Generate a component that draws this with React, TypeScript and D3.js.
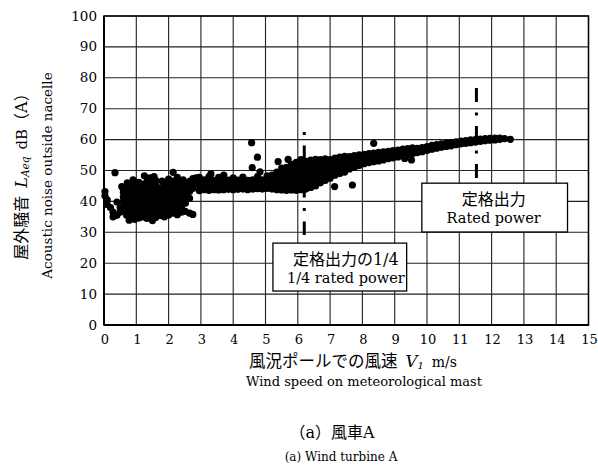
import React from 'react';
import * as d3 from 'd3';

// tick values
const speedTicks = [0, 1, 2, 3, 4, 5, 6, 7, 8, 9, 10, 11, 12, 13, 14, 15];
const noiseTicks = [0, 10, 20, 30, 40, 50, 60, 70, 80, 90, 100];

// scatter, as [wind speed, list of noise levels]
const calmEdge: [number, number[]][] = [
  [0.03, [43.2, 41.8]],
  [0.1, [40.5, 39]],
  [0.2, [38]],
  [0.28, [36.5, 35]],
  [0.4, [39.8, 35.5]],
  [0.5, [38, 36.5]],
];

const lowWindCloud: [number, number[]][] = [
  [0.6, [37, 38.5, 40, 41.5, 43, 44]],
  [0.7, [35.5, 37, 38.5, 40, 41.5, 43, 44.5]],
  [0.82, [34.8, 36.3, 37.8, 39.3, 40.8, 42.3, 43.8, 45.2]],
  [0.95, [34.2, 35.7, 37.2, 38.7, 40.2, 41.7, 43.2, 44.7, 46]],
  [1.08, [34.6, 36.1, 37.6, 39.1, 40.6, 42.1, 43.6, 45, 46.2]],
  [1.2, [35, 36.5, 38, 39.5, 41, 42.5, 44, 45.5]],
  [1.33, [34.5, 36, 37.5, 39, 40.5, 42, 43.5, 45, 46.4]],
  [1.46, [35.2, 36.7, 38.2, 39.7, 41.2, 42.7, 44.2, 45.6]],
  [1.6, [34.8, 36.3, 37.8, 39.3, 40.8, 42.3, 43.8, 45.2, 46.8]],
  [1.74, [35.4, 36.9, 38.4, 39.9, 41.4, 42.9, 44.4]],
  [1.87, [35, 36.5, 38, 39.5, 41, 42.5, 44, 45.4]],
  [2.0, [35.6, 37.1, 38.6, 40.1, 41.6, 43.1, 44.6, 46, 47.2]],
  [2.13, [36.2, 37.7, 39.2, 40.7, 42.2, 43.7, 45.2, 46.6]],
  [2.27, [35.7, 37.2, 38.7, 40.2, 41.7, 43.2, 44.7, 46.2, 47.8]],
  [2.4, [36.5, 38, 39.5, 41, 42.5, 44, 45.5]],
  [2.52, [36.8, 39.4, 40.9, 42.4, 43.9, 45.3]],
  [2.65, [36.2, 41, 43.2, 45, 46.5]],
  [2.75, [35.8, 44.2, 46, 47.4]],
  [2.85, [46.2, 47.6]],
];

const midWindBand: [number, number[]][] = [
  [2.95, [43.5, 45, 46.5, 47.8]],
  [3.1, [43.8, 45.2, 47]],
  [3.25, [43.6, 45, 46.6, 48]],
  [3.4, [43.8, 45.3, 46.8]],
  [3.55, [43.7, 45.2, 46.7, 47.8]],
  [3.7, [43.8, 45.3, 46.8, 48.2]],
  [3.85, [43.9, 45.4, 46.9]],
  [4.0, [43.8, 45.3, 46.8, 47.6]],
  [4.15, [43.9, 45.4, 46.9]],
  [4.3, [44, 45.5, 47, 47.9]],
  [4.45, [43.8, 45.3, 46.8]],
  [4.6, [44, 45.5, 47]],
  [4.75, [44.1, 45.6, 47.1, 48]],
  [4.9, [44, 45.5, 47]],
  [5.05, [44.2, 45.7, 47.2, 48.3]],
  [5.2, [44, 45.5, 47, 48.5]],
  [5.35, [43.8, 45.3, 46.8, 48.3, 49.5]],
  [5.5, [43.7, 45.2, 46.7, 48.2, 49.7, 50.8]],
  [5.65, [43.6, 45.1, 46.6, 48.1, 49.6, 51]],
];

const quarterPowerCloud: [number, number[]][] = [
  [5.8, [43.7, 45.2, 46.7, 48.2, 49.7, 51.2, 52]],
  [5.95, [43.6, 45.1, 46.6, 48.1, 49.6, 51.1, 52.6]],
  [6.1, [43.8, 45.3, 46.8, 48.3, 49.8, 51.3, 52.8, 53.5]],
  [6.25, [44, 45.5, 47, 48.5, 50, 51.5, 53]],
  [6.4, [44.5, 46, 47.5, 49, 50.5, 52, 53.4]],
  [6.55, [45, 46.5, 48, 49.5, 51, 52.5, 53.6]],
  [6.7, [46, 47.5, 49, 50.5, 52, 53.5]],
  [6.85, [46.8, 48.3, 49.8, 51.3, 52.8, 53.8]],
  [7.0, [47.5, 49, 50.5, 52, 53.5]],
  [7.15, [48.5, 50, 51.5, 53, 54]],
  [7.3, [49, 50.5, 52, 53.5, 54.3]],
  [7.45, [49.5, 51, 52.5, 54, 54.6]],
];

const highWindBand: [number, number[]][] = [
  [7.6, [50.5, 52, 53.5, 54.5]],
  [7.75, [51, 52.5, 54, 54.8]],
  [7.9, [51.6, 53, 54.5, 55.1]],
  [8.05, [52.2, 53.7, 55.2]],
  [8.2, [52.5, 54, 55.5]],
  [8.35, [52.8, 54.2, 55.6]],
  [8.5, [53.1, 54.5, 55.9]],
  [8.65, [53.4, 54.8, 56]],
  [8.8, [53.8, 55.1, 56.2]],
  [8.95, [54.1, 55.4, 56.4]],
  [9.1, [54.4, 55.6, 56.6]],
  [9.25, [54.8, 56, 56.9]],
  [9.4, [55.1, 56.2, 57.1]],
  [9.55, [55.4, 56.5, 57.3]],
  [9.7, [55.8, 57.2]],
  [9.85, [56.1, 57.4]],
  [10.0, [56.5, 57.7]],
  [10.15, [56.9, 58.1]],
  [10.3, [57.2, 58.4]],
  [10.45, [57.5, 58.6]],
  [10.6, [57.8, 58.9]],
  [10.75, [58, 59]],
  [10.9, [58.3, 59.3]],
  [11.05, [58.6, 59.5]],
  [11.2, [58.8, 59.7]],
  [11.35, [59, 59.9]],
  [11.5, [59.2, 60]],
  [11.65, [59.4, 60.2]],
  [11.8, [59.6, 60.3]],
  [11.95, [59.8, 60.4]],
  [12.1, [59.9, 60.5]],
  [12.25, [60.1, 60.5]],
  [12.4, [60.3]],
  [12.58, [60.1]],
];

const outliers: [number, number][] = [
  [0.34, 49.3], [1.25, 48.3], [2.14, 49.4], [3.31, 48.9], [3.71, 48.5],
  [4.57, 59], [4.75, 54.3], [4.59, 50.9], [4.83, 49.6], [5.39, 52.9],
  [5.7, 53.6], [7.14, 44.8], [7.69, 45.3], [8.35, 58.8], [9.31, 53.9],
  [9.52, 53.4], [0.55, 44.8], [0.72, 46], [0.9, 47], [1.42, 47.6],
  [1.55, 48], [1.8, 46.6], [2.45, 47], [0.78, 33.9], [1.5, 33.8],
];

// dash-dot markers: wind speed and noise range they span
const markerSpeeds = [6.2, 11.53];
const markerFrom = [29.1, 47.2];
const markerTo = [62.5, 76.7];

// annotation boxes: [speed min, speed max, noise min, noise max]
const boxExtents: [number, number, number, number][] = [
  [5.23, 9.37, 11, 26.5],
  [9.84, 14.35, 30.1, 45.9],
];
const boxJa = ['定格出力の1/4', '定格出力'];
const boxEn = ['1/4 rated power', 'Rated power'];

const W = 598;
const H = 466;
const serif = '"DejaVu Serif", "Noto Sans CJK JP", serif';
const ja = '"DejaVu Serif", "Noto Sans CJK JP", sans-serif';

export default function App() {
  const x = d3.scaleLinear().domain([0, 15]).range([104, 588.5]);
  const y = d3.scaleLinear().domain([0, 100]).range([325, 16]);

  const points: [number, number][] = [
    ...[...calmEdge, ...lowWindCloud, ...midWindBand, ...quarterPowerCloud, ...highWindBand]
      .flatMap(([v, ls]) => ls.map((l) => [v, l] as [number, number])),
    ...outliers,
  ];

  const dashes = ['3 10.5 14 10.5', '14 10.5 3 10.5'];
  const boxTextDx = [6, -1];

  return (
    <svg width={W} height={H} style={{ position: 'absolute', left: 0, top: 0, background: '#fff' }}>
      <rect x={0} y={0} width={W} height={H} fill="#fff" />
      {/* grid */}
      {speedTicks.map((t) => (
        <line key={'gx' + t} x1={x(t)} x2={x(t)} y1={y(0)} y2={y(100)} stroke="#222" strokeWidth={1.1} />
      ))}
      {noiseTicks.map((t) => (
        <line key={'gy' + t} x1={x(0)} x2={x(15)} y1={y(t)} y2={y(t)} stroke="#222" strokeWidth={1.1} />
      ))}

      {/* scatter */}
      {points.map(([v, l], i) => (
        <circle key={i} cx={x(v)} cy={y(l)} r={3.6} fill="#000" />
      ))}

      {/* rated power markers */}
      {markerSpeeds.map((s, i) => (
        <line key={'m' + i} x1={x(s)} x2={x(s)} y1={y(markerTo[i])} y2={y(markerFrom[i])}
          stroke="#000" strokeWidth={3} strokeDasharray={dashes[i]} />
      ))}

      {/* annotation boxes */}
      {boxExtents.map(([v0, v1, l0, l1], i) => {
        const cx = (x(v0) + x(v1)) / 2 + boxTextDx[i];
        return (
          <g key={'b' + i}>
            <rect x={x(v0)} y={y(l1)} width={x(v1) - x(v0)} height={y(l0) - y(l1)}
              fill="#fff" stroke="#000" strokeWidth={1.3} />
            <text x={cx} y={y(l1) + 21.5} textAnchor="middle" fontFamily={ja} fontSize={16}>{boxJa[i]}</text>
            <text x={cx} y={y(l1) + 39.5} textAnchor="middle" fontFamily={serif} fontSize={14.5}>{boxEn[i]}</text>
          </g>
        );
      })}

      {/* frame */}
      <rect x={x(0)} y={y(100)} width={x(15) - x(0)} height={y(0) - y(100)} fill="none" stroke="#000" strokeWidth={1.5} />
      <line x1={x(0)} x2={x(0)} y1={y(0)} y2={y(100)} stroke="#000" strokeWidth={2} />
      <line x1={x(0)} x2={x(15)} y1={y(0)} y2={y(0)} stroke="#000" strokeWidth={2} />

      {/* tick labels */}
      {noiseTicks.map((t) => (
        <text key={'ty' + t} x={97} y={y(t) + 4.5} textAnchor="end" fontFamily={serif} fontSize={13.5}>{t}</text>
      ))}
      {speedTicks.map((t) => (
        <text key={'tx' + t} x={x(t) + 1} y={344} textAnchor="middle" fontFamily={serif} fontSize={13}>{t}</text>
      ))}

      {/* x axis titles */}
      <text x={353} y={367} textAnchor="middle" fontFamily={ja} fontSize={16.5}>
        風況ポールでの風速
        <tspan fontStyle="italic" fontFamily={serif} dx={8}>V</tspan>
        <tspan fontStyle="italic" fontFamily={serif} fontSize={10} dy={2}>1</tspan>
        <tspan fontFamily={serif} fontSize={14} dy={-2} dx={8}>m/s</tspan>
      </text>
      <text x={364} y={385.5} textAnchor="middle" fontFamily={serif} fontSize={13}>Wind speed on meteorological mast</text>

      {/* y axis titles */}
      <text transform="translate(27,172.5) rotate(-90)" textAnchor="middle" fontFamily={ja} fontSize={16}>
        屋外騒音
        <tspan fontStyle="italic" fontFamily={serif} dx={8}>L</tspan>
        <tspan fontStyle="italic" fontFamily={serif} fontSize={10.5} dy={2}>Aeq</tspan>
        <tspan fontFamily={serif} fontSize={15} dy={-2} dx={7}>dB</tspan>
        <tspan>（A）</tspan>
      </text>
      <text transform="translate(52,175.5) rotate(-90)" textAnchor="middle" fontFamily={serif} fontSize={13.5}>
        Acoustic noise outside nacelle
      </text>

      {/* captions */}
      <text x={332} y={438} textAnchor="middle" fontFamily={ja} fontSize={16}>（a）風車A</text>
      <text x={341} y={461} textAnchor="middle" fontFamily={serif} fontSize={12}>(a) Wind turbine A</text>
    </svg>
  );
}
